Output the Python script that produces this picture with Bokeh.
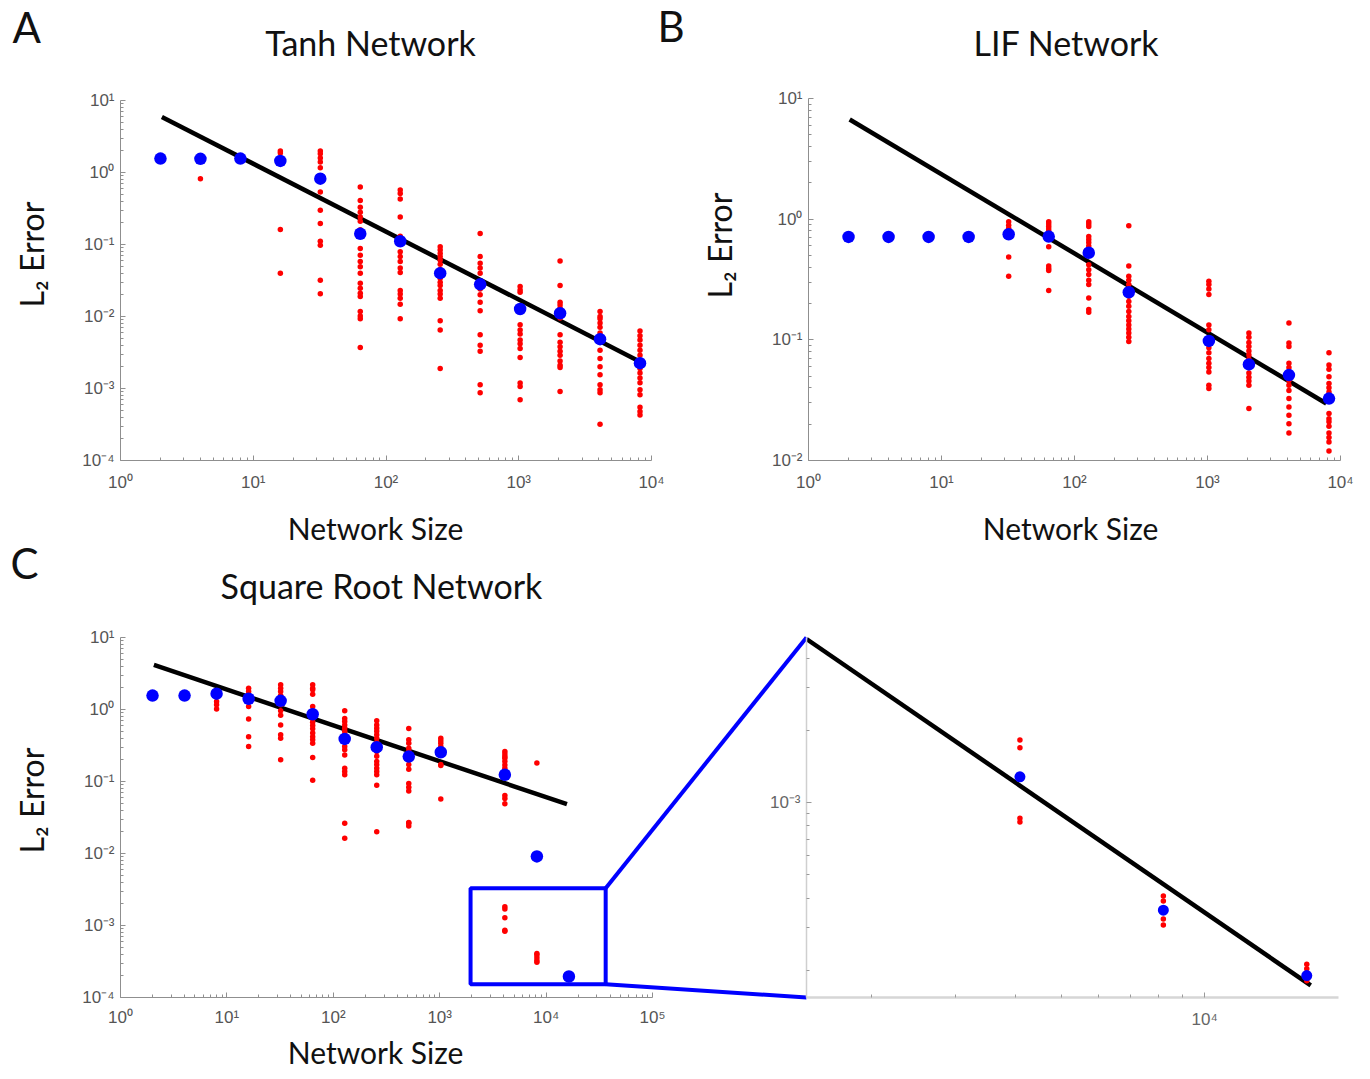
import math
from bokeh.plotting import figure
from bokeh.models import (Range1d, LogScale, LogAxis, FixedTicker, CustomJSTickFormatter, Label)
from bokeh.embed import file_html
from bokeh.resources import INLINE

# ---------------- data ----------------
# Panel A : Tanh network
tanh_n = [2, 4, 8, 16, 32, 64, 128, 256, 512, 1024, 2048, 4096, 8192]
tanh_mean = [1.56, 1.55, 1.56, 1.45, 0.82, 0.141, 0.111, 0.040, 0.028, 0.0127, 0.0111, 0.00484, 0.00225]
tanh_trials = [
    [1.56],
    [1.55, 0.82],
    [1.56],
    [1.99, 1.86, 1.5, 0.162, 0.040],
    [1.99, 1.82, 1.59, 1.40, 1.16, 0.537, 0.30, 0.196, 0.111, 0.098, 0.032, 0.0207],
    [0.63, 0.41, 0.33, 0.28, 0.24, 0.21, 0.16, 0.088, 0.071, 0.058, 0.049, 0.040, 0.029, 0.0247, 0.021, 0.0189, 0.0117, 0.0102, 0.0093, 0.0037],
    [0.57, 0.51, 0.43, 0.24, 0.13, 0.079, 0.068, 0.058, 0.047, 0.041, 0.023, 0.0206, 0.0179, 0.0148, 0.0093],
    [0.093, 0.084, 0.075, 0.068, 0.061, 0.053, 0.045, 0.034, 0.030, 0.027, 0.023, 0.0206, 0.0179, 0.0087, 0.0065, 0.0019],
    [0.142, 0.068, 0.055, 0.047, 0.040, 0.030, 0.024, 0.020, 0.0158, 0.012, 0.0056, 0.0040, 0.0033, 0.00113, 0.00087],
    [0.026, 0.0234, 0.0217, 0.0127, 0.0077, 0.0065, 0.0057, 0.0047, 0.0042, 0.0036, 0.0027, 0.00119, 0.00107, 0.0007],
    [0.059, 0.027, 0.0158, 0.0145, 0.013, 0.0095, 0.0056, 0.0044, 0.0038, 0.0033, 0.0029, 0.0024, 0.0021, 0.00196, 0.00091],
    [0.0117, 0.010, 0.0093, 0.0081, 0.0071, 0.0059, 0.0048, 0.0034, 0.0026, 0.0020, 0.00155, 0.00113, 0.00096, 0.00087, 0.00032],
    [0.0063, 0.0054, 0.0047, 0.0040, 0.0034, 0.0029, 0.0023, 0.0019, 0.00164, 0.0014, 0.0012, 0.00096, 0.00082, 0.00055, 0.00048, 0.00043],
]
tanh_fit_n = [2.05, 8130]
tanh_fit_err = [5.9, 0.00238]

# Panel B : LIF network
lif_n = [2, 4, 8, 16, 32, 64, 128, 256, 1024, 2048, 4096, 8192]
lif_mean = [0.713, 0.713, 0.713, 0.713, 0.75, 0.717, 0.527, 0.248, 0.098, 0.0626, 0.051, 0.0326]
lif_trials = [
    [0.713], [0.713], [0.713], [0.74],
    [0.95, 0.89, 0.84, 0.485, 0.337],
    [0.95, 0.91, 0.87, 0.83, 0.79, 0.59, 0.41, 0.39, 0.376, 0.256],
    [0.95, 0.91, 0.87, 0.72, 0.68, 0.64, 0.60, 0.42, 0.38, 0.348, 0.312, 0.287, 0.222, 0.178, 0.169],
    [0.88, 0.41, 0.337, 0.312, 0.287, 0.264, 0.23, 0.208, 0.19, 0.172, 0.156, 0.144, 0.133, 0.123, 0.114, 0.105, 0.097],
    [0.306, 0.287, 0.264, 0.237, 0.133, 0.121, 0.086, 0.078, 0.070, 0.064, 0.059, 0.054, 0.042, 0.0395],
    [0.114, 0.105, 0.095, 0.088, 0.081, 0.075, 0.069, 0.053, 0.049, 0.0455, 0.042, 0.027],
    [0.138, 0.094, 0.088, 0.064, 0.059, 0.053, 0.046, 0.042, 0.038, 0.0326, 0.0278, 0.0237, 0.0202, 0.0169],
    [0.078, 0.062, 0.057, 0.0495, 0.0435, 0.040, 0.037, 0.0245, 0.0222, 0.0209, 0.0192, 0.0169, 0.0155, 0.0142, 0.012],
]
lif_fit_n = [2.04, 7820]
lif_fit_err = [6.7, 0.0297]

# Panel C : Square root network
sqrt_n = [2, 4, 8, 16, 32, 64, 128, 256, 512, 1024, 4096, 8192, 16384]
sqrt_mean = [1.56, 1.56, 1.66, 1.41, 1.32, 0.86, 0.39, 0.30, 0.222, 0.255, 0.124, 0.0091, 0.000196]
sqrt_trials = [
    [1.56], [1.56],
    [1.29, 1.16, 1.02],
    [1.98, 1.78, 1.56, 1.29, 1.10, 0.74, 0.42, 0.306],
    [2.2, 1.98, 1.78, 1.56, 1.16, 0.96, 0.83, 0.61, 0.445, 0.40, 0.20],
    [2.2, 1.98, 1.88, 1.63, 1.10, 0.96, 0.74, 0.667, 0.60, 0.54, 0.47, 0.42, 0.38, 0.34, 0.215, 0.104],
    [0.96, 0.75, 0.68, 0.61, 0.55, 0.50, 0.445, 0.306, 0.275, 0.234, 0.153, 0.138, 0.124, 0.0264, 0.0163],
    [0.70, 0.61, 0.55, 0.50, 0.445, 0.40, 0.35, 0.26, 0.225, 0.19, 0.172, 0.153, 0.138, 0.124, 0.089, 0.020],
    [0.545, 0.38, 0.34, 0.29, 0.26, 0.172, 0.148, 0.094, 0.083, 0.074, 0.027, 0.0264, 0.024],
    [0.40, 0.367, 0.34, 0.306, 0.275, 0.172, 0.167, 0.057],
    [0.26, 0.24, 0.222, 0.21, 0.19, 0.17, 0.153, 0.064, 0.058, 0.049, 0.00182, 0.00169, 0.00128, 0.00086, 0.00083],
    [0.18, 0.000408, 0.000389, 0.000356, 0.000327, 0.000309],
    [0.000212, 0.000203, 0.000196, 0.000181],
]
sqrt_fit_n = [2.06, 15700]
sqrt_fit_err = [4.17, 0.0484]

# zoomed region of panel C (blue box)
zoom_box_n = [1950, 36300]
zoom_box_err = [1.53e-4, 3.3e-3]

# Inset (zoom of panel C)
inset_n = [4096, 8192, 16384]
inset_mean = [0.00128, 0.000356, 0.00019]
inset_trials = [
    [0.00182, 0.00169, 0.00128, 0.00086, 0.00083],
    [0.000408, 0.000389, 0.000356, 0.000327, 0.000309],
    [0.000212, 0.000203, 0.000190, 0.000181],
]
inset_fit_n = [1460, 16700]
inset_fit_err = [4.8e-3, 1.73e-4]

# axis limits of each panel
tanh_xlim, tanh_ylim = (1, 1e4), (1e-4, 10)
lif_xlim, lif_ylim = (1, 1e4), (1e-2, 10)
sqrt_xlim, sqrt_ylim = (1, 1e5), (1e-4, 10)
inset_xlim, inset_ylim = (1460, 19100), (1.54e-4, 4.87e-3)

# ---------------- layout (canvas px) ----------------
W, H = 1362, 1071
TITLE_FONT = "Lato"
TICK_FONT = "Liberation Sans"
# axes boxes: (left, right), (top, bottom)
BOX = {
    "default": ((120, 651), (100, 460)),   # A
    "b": ((808, 1340), (98, 460)),         # B
    "c": ((120, 652), (637, 997)),         # C
    "d": ((806, 1338), (637, 997)),        # inset
}
LIMS = {
    "default": (tanh_xlim, tanh_ylim),
    "b": (lif_xlim, lif_ylim),
    "c": (sqrt_xlim, sqrt_ylim),
    "d": (inset_xlim, inset_ylim),
}

SUP_CODE = """
const sup = {"0":"\u2070","1":"\u00b9","2":"\u00b2","3":"\u00b3","4":"\u2074","5":"\u2075","6":"\u2076","7":"\u2077","8":"\u2078","9":"\u2079","-":"\u207b"};
const e = Math.round(Math.log10(tick));
return "10" + String(e).split("").map(c => sup[c]).join("");
"""


def lg(v):
    return math.log10(v)


def x_map(name):
    (l, r), _ = BOX[name]
    (v0, v1), _ = LIMS[name]
    k = (lg(v1) - lg(v0)) / (r - l)
    return lambda px: 10 ** (lg(v0) + (px - l) * k)


def y_map(name):
    _, (t, b) = BOX[name]
    _, (v0, v1) = LIMS[name]   # v0 at bottom, v1 at top
    k = (lg(v1) - lg(v0)) / (b - t)
    return lambda py: 10 ** (lg(v0) + (b - py) * k)


def full_x_range(name):
    f = x_map(name)
    return Range1d(f(0), f(W))


def full_y_range(name):
    f = y_map(name)
    return Range1d(f(H), f(0))


p = figure(width=W, height=H, x_axis_type="log", y_axis_type="log",
           x_axis_location=None, y_axis_location=None,
           x_range=full_x_range("default"), y_range=full_y_range("default"),
           min_border=0, output_backend="svg", toolbar_location=None)
p.grid.visible = False
p.outline_line_color = None
p.background_fill_color = "white"
p.border_fill_color = "white"
for nm in ["b", "c", "d"]:
    p.extra_x_ranges[nm] = full_x_range(nm)
    p.extra_y_ranges[nm] = full_y_range(nm)
    p.extra_x_scales[nm] = LogScale()
    p.extra_y_scales[nm] = LogScale()


def decade_ticker(lo, hi):
    majors = [10.0 ** e for e in range(lo, hi + 1)]
    minors = [m * 10.0 ** e for e in range(lo, hi) for m in range(2, 10)]
    return FixedTicker(ticks=majors, minor_ticks=minors)


def make_axis(name, ticker, bounds, fixed, line_color="#8f8f8f", label_color="#555555",
              standoff=6, line_width=1, tick_color=None):
    tick_color = tick_color or line_color
    return LogAxis(x_range_name=name, y_range_name=name, ticker=ticker, bounds=bounds,
                   fixed_location=fixed, formatter=CustomJSTickFormatter(code=SUP_CODE),
                   axis_line_color=line_color, axis_line_width=line_width,
                   major_tick_line_color=tick_color, minor_tick_line_color=tick_color,
                   major_tick_in=5, major_tick_out=0, minor_tick_in=3, minor_tick_out=0,
                   major_label_text_font=TICK_FONT, major_label_text_font_size="17px",
                   major_label_text_color=label_color, major_label_standoff=standoff)


def label_axis(name, text, bounds, fixed, standoff, size):
    # axis that only carries a centred axis label
    return LogAxis(x_range_name=name, y_range_name=name, ticker=FixedTicker(ticks=[], minor_ticks=[]),
                   bounds=bounds, fixed_location=fixed, axis_line_color=None,
                   major_tick_line_color=None, minor_tick_line_color=None,
                   axis_label=text, axis_label_standoff=standoff,
                   axis_label_text_font=TITLE_FONT, axis_label_text_font_size=size,
                   axis_label_text_font_style="normal", axis_label_text_color="#111111")


def panel_axes(name, xt, yt, x_standoff, xlab_center, ylab_center, xlab_standoff, ylab_standoff):
    (xl, yl) = LIMS[name]
    p.add_layout(make_axis(name, xt, xl, yl[0], standoff=x_standoff), "below")
    p.add_layout(make_axis(name, yt, yl, xl[0], standoff=6), "left")
    fx, fy = x_map(name), y_map(name)
    p.add_layout(label_axis(name, "Network Size", (fx(xlab_center - 60), fx(xlab_center + 60)),
                            yl[0], xlab_standoff, "30px"), "below")
    p.add_layout(label_axis(name, "L\u2082 Error", (fy(ylab_center + 60), fy(ylab_center - 60)),
                            xl[0], ylab_standoff, "32px"), "left")


def flatten(ns, trials):
    xs, ys = [], []
    for n, t in zip(ns, trials):
        xs += [n] * len(t)
        ys += list(t)
    return xs, ys


def draw_data(name, ns, mean, trials, fit_n, fit_err, big=12.5):
    kw = dict(x_range_name=name, y_range_name=name)
    p.line(fit_n, fit_err, line_color="black", line_width=4.5, **kw)
    tx, ty = flatten(ns, trials)
    p.scatter(tx, ty, size=5.5, fill_color="#ff0000", line_color="#ff0000", line_width=0, **kw)
    p.scatter(ns, mean, size=big, fill_color="#0000ff", line_color="#0000ff", line_width=0, **kw)


def text(t, x, y, size, align="left"):
    p.add_layout(Label(x=x, y=y, x_units="canvas", y_units="canvas", text=t,
                       text_font=TITLE_FONT, text_font_size=size, text_color="#111111",
                       text_baseline="alphabetic", text_align=align))


# ---------------- Panel A ----------------
draw_data("default", tanh_n, tanh_mean, tanh_trials, tanh_fit_n, tanh_fit_err)
panel_axes("default", decade_ticker(0, 4), decade_ticker(-4, 1), 12, 375, 254, 49, 70)
text("A", 12, 26, "42px")
text("Tanh Network", 370, 42, "34px", "center")

# ---------------- Panel B ----------------
draw_data("b", lif_n, lif_mean, lif_trials, lif_fit_n, lif_fit_err)
panel_axes("b", decade_ticker(0, 4), decade_ticker(-2, 1), 12, 1070, 245, 49, 70)
text("B", 657, 25, "42px")
text("LIF Network", 1066, 42, "34px", "center")

# ---------------- Panel C ----------------
draw_data("c", sqrt_n, sqrt_mean, sqrt_trials, sqrt_fit_n, sqrt_fit_err)
panel_axes("c", decade_ticker(0, 5), decade_ticker(-4, 1), 10, 375, 800, 36, 70)
text("C", 10, 562, "42px")
text("Square Root Network", 381, 585, "34px", "center")
p.quad(left=[zoom_box_n[0]], right=[zoom_box_n[1]], bottom=[zoom_box_err[0]], top=[zoom_box_err[1]],
       fill_alpha=0, line_color="#0000ff", line_width=4, x_range_name="c", y_range_name="c")

# ---------------- Inset ----------------
draw_data("d", inset_n, inset_mean, inset_trials, inset_fit_n, inset_fit_err, big=11)
p.add_layout(make_axis("d", FixedTicker(ticks=[1e4], minor_ticks=[m * 1000 for m in range(2, 10)]),
                       inset_xlim, inset_ylim[0], line_color="#d6d6d6", label_color="#666666",
                       standoff=12, line_width=2.5, tick_color="#9a9a9a"), "below")
p.add_layout(make_axis("d", FixedTicker(ticks=[1e-3], minor_ticks=[m * 1e-4 for m in range(2, 10)] + [2e-3, 3e-3, 4e-3]),
                       inset_ylim, inset_xlim[0], line_color="#cfcfcf", label_color="#666666",
                       standoff=6, line_width=1.5, tick_color="#9a9a9a"), "left")

# ---------------- connectors: zoom box (C) -> inset frame corners ----------------
inset_left_in_c = x_map("c")(BOX["d"][0][0])
p.segment(x0=[zoom_box_n[1], zoom_box_n[1]], y0=[zoom_box_err[1], zoom_box_err[0]],
          x1=[inset_left_in_c, inset_left_in_c], y1=[sqrt_ylim[1], sqrt_ylim[0]],
          line_color="#0000ff", line_width=4, x_range_name="c", y_range_name="c")

open("out.html", "w").write(file_html(p, INLINE))
